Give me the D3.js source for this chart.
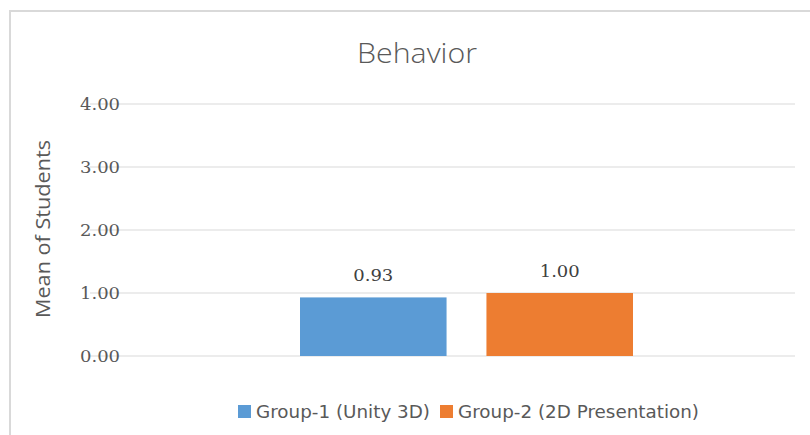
<!DOCTYPE html>
<html><head><meta charset="utf-8">
<script src="https://cdn.jsdelivr.net/npm/d3@7"></script>
<style>body{margin:0;background:#fff}svg{display:block}</style>
</head><body>
<svg id="c" width="810" height="435"></svg>
<script>
const categories = ["Behavior"];
const seriesNames = ["Group-1 (Unity 3D)", "Group-2 (2D Presentation)"];
const seriesValues = [0.93, 1.00];
const seriesColors = ["#5b9bd5", "#ed7d31"];
const yTicks = [0, 1, 2, 3, 4];

const svg = d3.select("#c");
// frame
svg.append("path").attr("d","M10,436 L10,11 L812,11").attr("fill","none").attr("stroke","#d9d9d9").attr("stroke-width",2);

const y = d3.scaleLinear().domain([0,4]).range([356,104]);
const xOuter = d3.scaleBand().domain(categories).range([138,795]).paddingInner(0).paddingOuter(0);
const xInner = d3.scaleBand().domain(seriesNames).range([300 - 138, 633 - 138]).paddingInner(40/187).paddingOuter(0);

// gridlines
svg.append("g").selectAll("line").data(yTicks).join("line")
  .attr("x1",90).attr("x2",795).attr("y1",d=>y(d)).attr("y2",d=>y(d))
  .attr("stroke","#d9d9d9").attr("stroke-width",1.2);

// tick labels
const yAxis = d3.axisLeft(y).tickValues(yTicks).tickFormat(d3.format(".2f")).tickSize(0).tickPadding(0);
const ga = svg.append("g").attr("transform","translate(120,0)").call(yAxis);
ga.select(".domain").remove();
ga.selectAll("text").attr("font-family","'DejaVu Serif', serif").attr("font-size",16).attr("fill","#595959")
  .attr("dy","0.36em").attr("textLength",40).attr("lengthAdjust","spacingAndGlyphs");

// bars
const g = svg.append("g").attr("transform",`translate(${xOuter(categories[0])},0)`);
const data = seriesNames.map((s,i)=>({s, v:seriesValues[i], c:seriesColors[i]}));
g.selectAll("rect").data(data).join("rect")
  .attr("x",d=>xInner(d.s)).attr("width",xInner.bandwidth())
  .attr("y",d=>y(d.v)).attr("height",d=>y(0)-y(d.v)).attr("fill",d=>d.c);
g.selectAll("text.lbl").data(data).join("text").attr("class","lbl")
  .attr("x",d=>xInner(d.s)+xInner.bandwidth()/2).attr("y",d=>y(d.v)-16)
  .attr("text-anchor","middle").attr("font-family","'DejaVu Serif', serif").attr("font-size",16)
  .attr("textLength",40).attr("lengthAdjust","spacingAndGlyphs")
  .attr("fill","#404040").text(d=>d.v.toFixed(2));

// title
svg.append("text").attr("x",417).attr("y",63).attr("text-anchor","middle")
  .attr("font-family","'Open Sans', sans-serif").attr("font-weight",300).attr("font-size",28)
  .attr("textLength",120).attr("lengthAdjust","spacingAndGlyphs")
  .attr("fill","#595959").text(categories[0]);

// y title
svg.append("text").attr("transform","translate(50,229) rotate(-90)").attr("text-anchor","middle")
  .attr("font-family","'Open Sans', sans-serif").attr("font-size",20).attr("fill","#595959")
  .attr("textLength",178).attr("lengthAdjust","spacingAndGlyphs").text("Mean of Students");

// legend
const legX = [238, 440];
const legW = [174, 241];
const lg = svg.append("g").selectAll("g").data(data).join("g").attr("transform",(d,i)=>`translate(${legX[i]},405)`);
lg.append("rect").attr("width",13).attr("height",13).attr("fill",d=>d.c);
lg.append("text").attr("x",18).attr("y",7).attr("dy","0.36em").attr("font-family","'DejaVu Sans', sans-serif")
  .attr("font-size",17).attr("fill","#595959")
  .attr("textLength",(d,i)=>legW[i]).attr("lengthAdjust","spacingAndGlyphs").text(d=>d.s);
</script>
</body></html>
